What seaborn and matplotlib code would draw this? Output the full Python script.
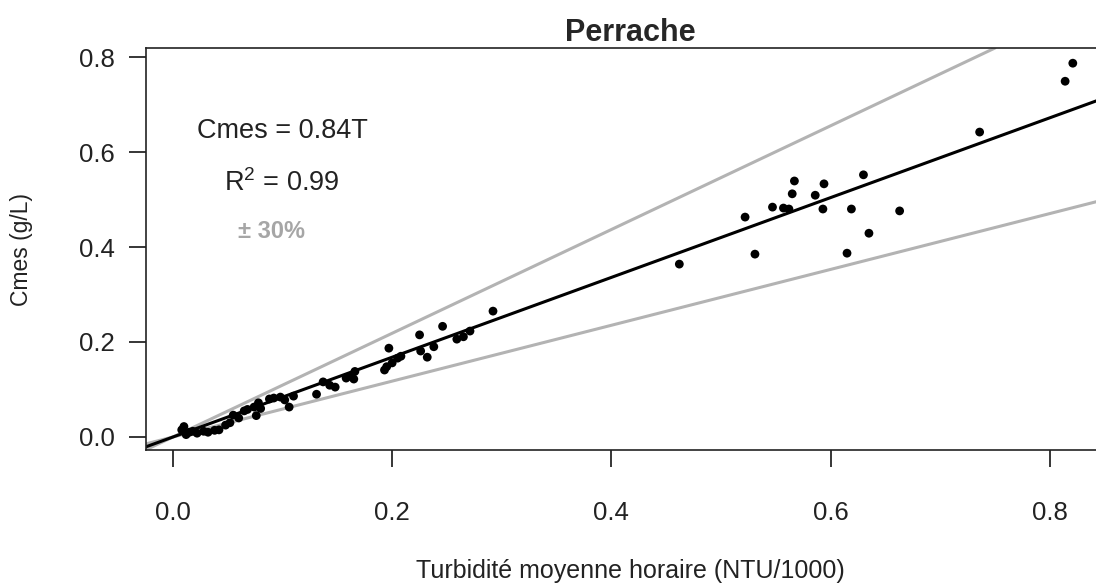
import numpy as np
import pandas as pd
import matplotlib
matplotlib.use("Agg")
import matplotlib.pyplot as plt
import seaborn as sns

# turbidity (NTU/1000) and measured concentration (g/L)
turb = [0.008, 0.010, 0.012, 0.015, 0.018, 0.022, 0.028, 0.032, 0.038, 0.042,
        0.048, 0.052, 0.055, 0.060, 0.065, 0.068, 0.074, 0.076, 0.078, 0.080,
        0.088, 0.092, 0.098, 0.102, 0.106, 0.110, 0.131, 0.137, 0.143, 0.148,
        0.158, 0.162, 0.166, 0.165, 0.193, 0.195, 0.197, 0.200, 0.205, 0.208,
        0.225, 0.226, 0.232, 0.238, 0.246, 0.259, 0.265, 0.271, 0.292,
        0.462, 0.522, 0.531, 0.547, 0.557, 0.562, 0.565, 0.567, 0.586, 0.593,
        0.594, 0.615, 0.619, 0.630, 0.635, 0.663, 0.736, 0.814, 0.821]
cmes = [0.015, 0.022, 0.005, 0.010, 0.012, 0.008, 0.012, 0.010, 0.014, 0.015,
        0.025, 0.030, 0.046, 0.040, 0.055, 0.058, 0.063, 0.045, 0.072, 0.060,
        0.080, 0.082, 0.084, 0.078, 0.063, 0.086, 0.090, 0.116, 0.109, 0.105,
        0.124, 0.128, 0.138, 0.122, 0.141, 0.148, 0.187, 0.156, 0.166, 0.170,
        0.215, 0.181, 0.168, 0.190, 0.233, 0.206, 0.211, 0.223, 0.265,
        0.364, 0.463, 0.385, 0.484, 0.482, 0.480, 0.512, 0.539, 0.509, 0.480,
        0.533, 0.387, 0.480, 0.552, 0.429, 0.476, 0.642, 0.749, 0.787]

slope = 0.84
r2 = 0.99
band = 0.30
xticks = [0.0, 0.2, 0.4, 0.6, 0.8]
yticks = [0.0, 0.2, 0.4, 0.6, 0.8]

df = pd.DataFrame({"turb": turb, "cmes": cmes})

sns.set_theme(style="white")
plt.rcParams["font.family"] = ["Liberation Sans", "DejaVu Sans"]
plt.rcParams["mathtext.fontset"] = "custom"
plt.rcParams["mathtext.rm"] = "Liberation Sans"

fig = plt.figure(figsize=(10.96, 5.86), dpi=100)
ax = fig.add_axes([146 / 1096, 136 / 586, 969 / 1096, 402 / 586])

# +/- 30% envelope and the fitted line through the origin
for f in (1 + band, 1 - band):
    ax.axline((0, 0), slope=slope * f, color="#b3b3b3", lw=2.2, zorder=1)
ax.axline((0, 0), slope=slope, color="black", lw=2.2, zorder=2)

sns.scatterplot(data=df, x="turb", y="cmes", ax=ax, color="black",
                s=40, edgecolor="none", zorder=3, legend=False)

ax.set_xlim(-0.0246, 0.8595)
ax.set_ylim(-0.0274, 0.819)
ax.set_xticks(xticks)
ax.set_yticks(yticks)
ax.set_xticklabels([f"{v:.1f}" for v in xticks])
ax.set_yticklabels([f"{v:.1f}" for v in yticks])
ax.tick_params(axis="both", direction="out", length=12.5, width=1.1,
               color="black", labelsize=18.5, labelcolor="#222222")
ax.tick_params(axis="x", pad=24)
ax.tick_params(axis="y", pad=10)
ax.tick_params(bottom=True, left=True)
for side in ax.spines.values():
    side.set_color("#222222")
    side.set_linewidth(1.2)

ax.set_xlabel("Turbidité moyenne horaire (NTU/1000)", fontsize=18,
              color="#222222", va="top")
ax.xaxis.set_label_coords(0.5, -0.272)
ax.set_ylabel("Cmes (g/L)", fontsize=16.5, color="#222222")
ax.yaxis.set_label_coords(-0.117, 0.5)
ax.set_title("Perrache", fontsize=22, fontweight="bold", pad=5)

ax.text(0.0995, 0.644, f"Cmes = {slope:.2f}T", fontsize=19.5,
        ha="center", va="center", color="#222222")
ax.text(0.0995, 0.535, "R$^2$ = " + f"{r2:.2f}", fontsize=19.5,
        ha="center", va="center", color="#222222")
ax.text(0.090, 0.432, f"± {int(band * 100)}%", fontsize=17,
        fontweight="bold", ha="center", va="center", color="#a6a6a6")

fig.savefig("out.png", dpi=100)
